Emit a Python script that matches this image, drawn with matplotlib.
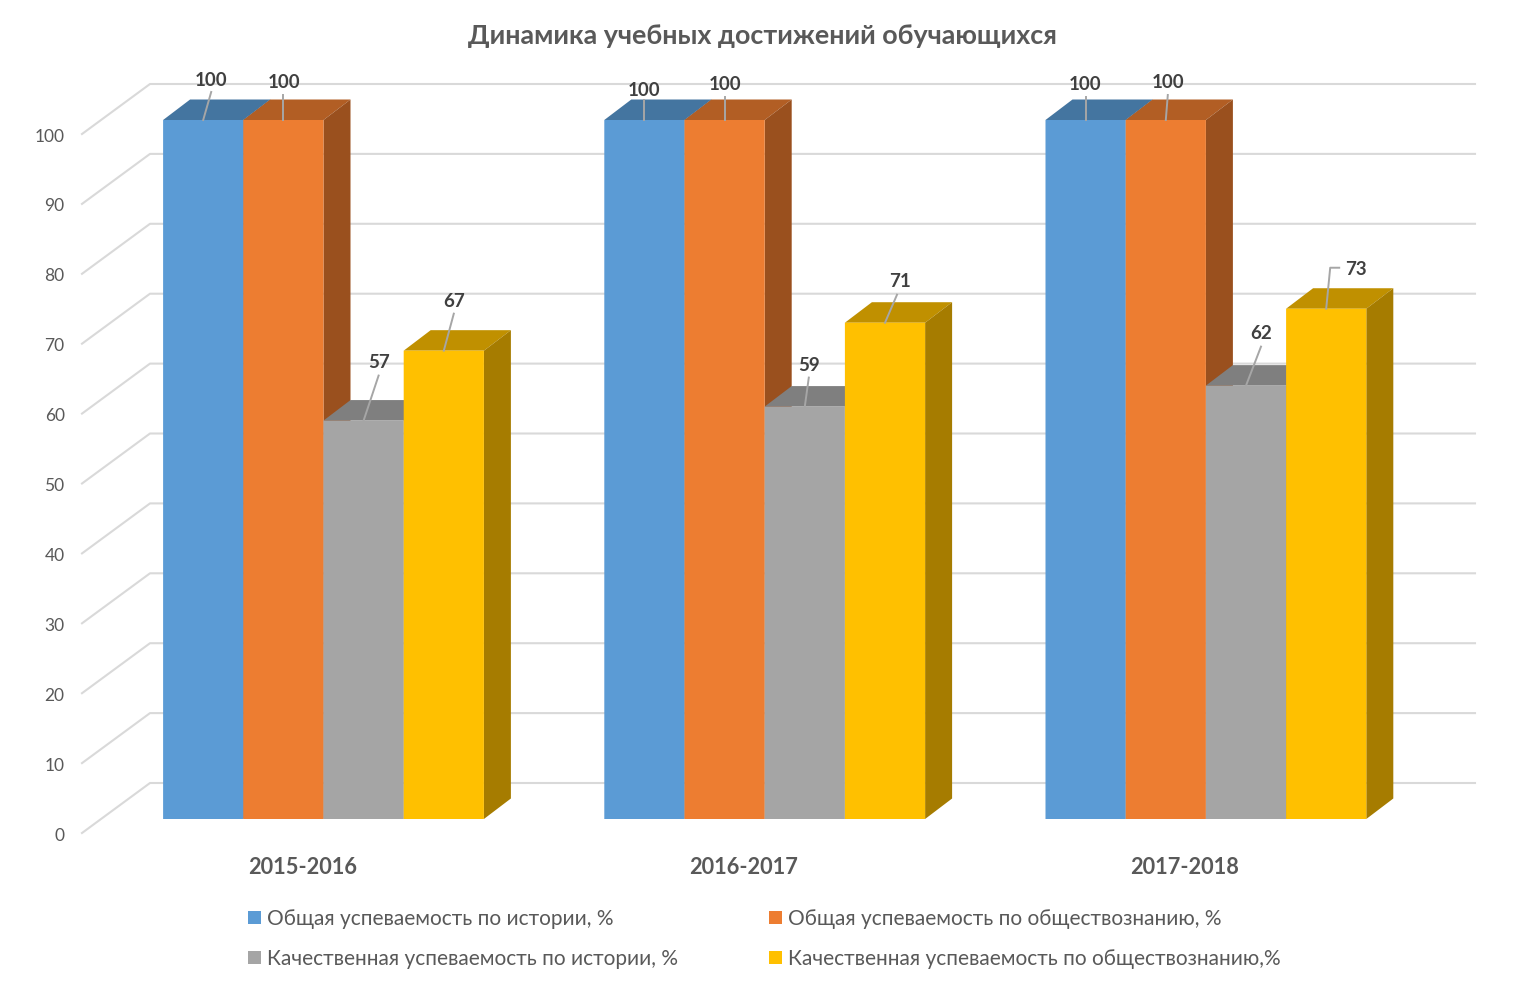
import matplotlib
matplotlib.use('Agg')
import matplotlib.pyplot as plt
from matplotlib.patches import Patch
from matplotlib.transforms import ScaledTranslation

plt.rcParams['font.family'] = ['Lato', 'Noto Sans', 'DejaVu Sans']

# Data
years = ['2015-2016', '2016-2017', '2017-2018']
series_names = [
    'Общая успеваемость по истории, %',
    'Общая успеваемость по обществознанию, %',
    'Качественная успеваемость по истории, %',
    'Качественная успеваемость по обществознанию,%',
]
total_history = [100, 100, 100]
total_social = [100, 100, 100]
quality_history = [57, 59, 62]
quality_social = [67, 71, 73]
y_ticks = list(range(0, 101, 10))
title = 'Динамика учебных достижений обучающихся'

# Colours: front, top and side face of each series
front_colors = ['#5B9BD5', '#ED7D31', '#A5A5A5', '#FFC000']
top_colors = ['#4475A0', '#B25E24', '#7F7F7F', '#C09000']
side_colors = ['#3E6A92', '#9A501E', '#6E6E6E', '#A67C00']

# Pixel geometry of the picture
W, H = 1523, 988
PX_GROUP = 441.2
PX_UNIT = 6.99
X0_PX = 323.5  # centre of the first group
Y0_PX = 819.0  # value 0 on the front plane
LEFT_PX, RIGHT_PX = 82, 1475
BAR_PX = 80.2
DEPTH_X, DEPTH_Y = 27, 20.5
WALL_X, WALL_Y = 68, 50  # floor diagonal of the back wall
WALL_LIFT = 36  # back wall is this far above the front plane


def dx(px):
    return px / PX_GROUP


def dy(px):
    return px / PX_UNIT


# Leader lines: pixel offsets from the bar top, last point is next to the label
leaders = [
    [[(0, 0), (8, 28)], [(0, 0), (0, 25)], [(0, 0), (15, 45)], [(0, 0), (10, 37)]],
    [[(0, 0), (0, 20)], [(0, 0), (0, 23)], [(0, 0), (4, 29)], [(0, 0), (12, 28)]],
    [[(0, 0), (0, 23)], [(0, 0), (2, 25)], [(0, 0), (15, 39)], [(0, 0), (4, 41), (13, 41)]],
]
# Label centres relative to the bar top, in pixels
label_offsets = [
    [(8, 40), (1, 38), (15, 58), (10, 49)],
    [(0, 29), (0, 35), (4, 41), (15, 41)],
    [(-1, 35), (2, 38), (15, 52), (30, 39)],
]

fig = plt.figure(figsize=(W / 100, H / 100), dpi=100, facecolor='white')
ax = fig.add_axes([
    LEFT_PX / W,
    (H - Y0_PX) / H,
    (RIGHT_PX - LEFT_PX) / W,
    (100 * PX_UNIT) / H,
])
ax.set_xlim((LEFT_PX - X0_PX) / PX_GROUP, (RIGHT_PX - X0_PX) / PX_GROUP)
ax.set_ylim(0, 100)
ax.patch.set_visible(False)
for spine in ax.spines.values():
    spine.set_visible(False)

# Back wall gridlines and the diagonal on the side wall
grid_x0 = dx(LEFT_PX + WALL_X - X0_PX)
grid_x1 = dx(RIGHT_PX - X0_PX)
lift = dy(WALL_LIFT)
drop = dy(WALL_Y)
for v in y_ticks:
    ax.plot([dx(LEFT_PX - X0_PX), grid_x0, grid_x1],
            [v + lift - drop, v + lift, v + lift],
            color='#D9D9D9', lw=1.5, clip_on=False, zorder=1)

# Bars with their top and side faces
series = [total_history, total_social, quality_history, quality_social]
bar_w = dx(BAR_PX)
ddx, ddy = dx(DEPTH_X), dy(DEPTH_Y)
z = 2
for g in range(len(years)):
    for s, values in enumerate(series):
        val = values[g]
        xc = g + (s - 1.5) * bar_w
        xl, xr = xc - bar_w / 2, xc + bar_w / 2
        ax.fill([xl, xl + ddx, xr + ddx, xr], [val, val + ddy, val + ddy, val],
                color=top_colors[s], lw=0, clip_on=False, zorder=z, snap=False)
        ax.fill([xr, xr + ddx, xr + ddx, xr], [0, ddy, val + ddy, val],
                color=side_colors[s], lw=0, clip_on=False, zorder=z, snap=False)
        ax.bar(xc, val, width=bar_w, color=front_colors[s], lw=0, clip_on=False, zorder=z, snap=False)
        z += 1

# Data labels and leader lines
for g in range(len(years)):
    for s, values in enumerate(series):
        val = values[g]
        xc = g + (s - 1.5) * bar_w
        pts = leaders[g][s]
        ax.plot([xc + dx(p[0]) for p in pts], [val + dy(p[1]) for p in pts],
                color='#A6A6A6', lw=1.4, clip_on=False, zorder=50)
        ox, oy = label_offsets[g][s]
        ax.text(xc + dx(ox), val + dy(oy), str(val), ha='center', va='center',
                fontsize=13.5, fontweight='bold', color='#404040', zorder=51)

# Axis labels
ax.set_xticks(range(len(years)))
ax.set_xticklabels(years, fontsize=15.7, fontweight='bold', color='#595959')
ax.set_yticks(y_ticks)
ax.set_yticklabels([str(v) for v in y_ticks], fontsize=12.5, color='#595959')
ax.tick_params(axis='x', length=0, pad=27)
ax.tick_params(axis='y', length=0, pad=12.5)
shift_y = ScaledTranslation(0, -15 / 100, fig.dpi_scale_trans)
for lab in ax.get_yticklabels():
    lab.set_transform(lab.get_transform() + shift_y)
# Category labels sit left of the group centre, under the front plane of the floor
shift_x = ScaledTranslation(-21 / 100, 0, fig.dpi_scale_trans)
for lab in ax.get_xticklabels():
    lab.set_transform(lab.get_transform() + shift_x)

fig.text(762 / W, 1 - 36 / H, title, ha='center', va='center',
         fontsize=19.4, fontweight='bold', color='#595959')

# Legend, filled column by column
order = [0, 2, 1, 3]
handles = [Patch(facecolor=front_colors[i], edgecolor='none', label=series_names[i]) for i in order]
fig.legend(handles=handles, ncol=2, frameon=False, fontsize=15,
           labelcolor='#595959', handlelength=0.6, handleheight=0.6,
           handletextpad=0.3, columnspacing=4.4, labelspacing=0.98,
           loc='upper left', bbox_to_anchor=(229.3 / W, 1 - 890 / H))

fig.savefig('out.png', dpi=100)
